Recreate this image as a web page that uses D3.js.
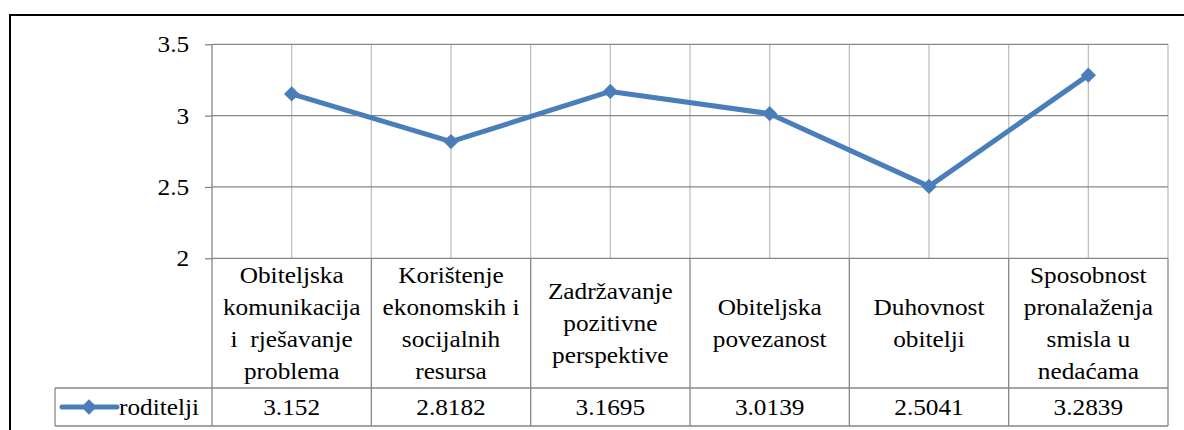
<!DOCTYPE html>
<html>
<head>
<meta charset="utf-8">
<script src="https://cdn.jsdelivr.net/npm/d3@7"></script>
<style>
  body{margin:0;background:#fff}
  svg text{font-family:"Liberation Serif",Tinos,"Times New Roman","DejaVu Serif",serif;fill:#000;white-space:pre}
</style>
</head>
<body>
<div id="chart"></div>
<script>
// categories, split in lines the way they are wrapped in the table
let categories=[
  ["Obiteljska","komunikacija","i  rješavanje","problema"],
  ["Korištenje","ekonomskih i","socijalnih","resursa"],
  ["Zadržavanje","pozitivne","perspektive"],
  ["Obiteljska","povezanost"],
  ["Duhovnost","obitelji"],
  ["Sposobnost","pronalaženja","smisla u","nedaćama"]
]
let seriesName="roditelji"
let values=[3.152,2.8182,3.1695,3.0139,2.5041,3.2839]
let valueLabels=["3.152","2.8182","3.1695","3.0139","2.5041","3.2839"]
let yTicks=[2,2.5,3,3.5]

let width=1184,height=430
let plotLeft=212,plotRight=1168,plotTop=44.3,plotBottom=258.3
let rowY=388,tableBottom=426,legendLeft=55
let fontSize=23,sx=1.1
let serif='"Liberation Serif",Tinos,"Times New Roman","DejaVu Serif",serif'
let blue="#4a7ebb",dark="#878787",light="#c0c0c0"

const svg=d3.select("#chart").append("svg").attr("width",width).attr("height",height)

const ids=categories.map((c,i)=>i)
const xScale=d3.scaleBand().domain(ids).range([plotLeft,plotRight])
const yScale=d3.scaleLinear().domain([2,3.5]).range([plotBottom,plotTop])
const bw=xScale.bandwidth()

// outer frame
svg.append("rect").attr("x",10).attr("y",15).attr("width",1300).attr("height",600)
  .attr("fill","none").attr("stroke","#000").attr("stroke-width",2)

// vertical gridlines at centers and between categories
let vLines=[]
ids.forEach(i=>{vLines.push(xScale(i)+bw/2);if(i>0)vLines.push(xScale(i))})
vLines.push(plotRight)
svg.append("g").selectAll("line").data(vLines).enter().append("line")
  .attr("x1",d=>d).attr("x2",d=>d).attr("y1",plotTop).attr("y2",plotBottom)
  .attr("stroke",light).attr("stroke-width",1.3)

// horizontal gridlines
svg.append("g").selectAll("line").data(yTicks.filter(d=>d>2)).enter().append("line")
  .attr("x1",plotLeft).attr("x2",plotRight).attr("y1",d=>yScale(d)).attr("y2",d=>yScale(d))
  .attr("stroke",dark).attr("stroke-width",1.3)

// y axis
const yAxis=d3.axisLeft(yScale).tickValues(yTicks).tickSize(7).tickPadding(12).tickFormat(d=>String(d))
const ya=svg.append("g").attr("transform","translate("+plotLeft+",0)").call(yAxis)
ya.attr("font-family",serif)
ya.select(".domain").remove()
ya.selectAll("line").attr("stroke",dark).attr("stroke-width",1.3)
ya.selectAll("text").attr("font-size",fontSize).attr("fill","#000")
  .attr("transform",function(){let x=+d3.select(this).attr("x");return "translate("+(x*(sx-1))+",0) scale("+sx+",1)"})

// data table lines
const tg=svg.append("g").attr("stroke",dark).attr("stroke-width",1.3)
tg.append("line").attr("x1",plotLeft).attr("x2",plotLeft).attr("y1",plotTop).attr("y2",tableBottom)
tg.append("line").attr("x1",plotRight).attr("x2",plotRight).attr("y1",plotBottom).attr("y2",tableBottom)
tg.selectAll(".sep").data(ids.slice(1)).enter().append("line")
  .attr("x1",d=>xScale(d)).attr("x2",d=>xScale(d)).attr("y1",plotBottom).attr("y2",tableBottom)
tg.append("line").attr("x1",plotLeft).attr("x2",plotRight).attr("y1",plotBottom).attr("y2",plotBottom)
tg.append("line").attr("x1",legendLeft).attr("x2",plotRight).attr("y1",rowY).attr("y2",rowY)
tg.append("line").attr("x1",legendLeft).attr("x2",plotRight).attr("y1",tableBottom).attr("y2",tableBottom)
tg.append("line").attr("x1",legendLeft).attr("x2",legendLeft).attr("y1",rowY).attr("y2",tableBottom)

// category labels
let lineH=32
const cg=svg.append("g").attr("font-family",serif).selectAll("g").data(ids).enter().append("g")
cg.each(function(i){
  let lines=categories[i]
  let cx=xScale(i)+bw/2
  let y0=(plotBottom+rowY)/2-(lines.length-1)*lineH/2
  lines.forEach((t,k)=>{
    d3.select(this).append("text").attr("text-anchor","middle").attr("dominant-baseline","central")
      .attr("font-size",fontSize).attr("transform","translate("+cx+","+(y0+k*lineH)+") scale("+sx+",1)").text(t)
  })
})

// values row
svg.append("g").attr("font-family",serif).selectAll("text").data(ids).enter().append("text")
  .attr("text-anchor","middle").attr("dominant-baseline","central").attr("font-size",fontSize)
  .attr("transform",d=>"translate("+(xScale(d)+bw/2)+","+((rowY+tableBottom)/2)+") scale("+sx+",1)")
  .text(d=>valueLabels[d])

// legend key
const diamond=d3.symbol().type(d3.symbolDiamond2).size(150)
svg.append("line").attr("x1",62).attr("x2",117).attr("y1",(rowY+tableBottom)/2).attr("y2",(rowY+tableBottom)/2)
  .attr("stroke",blue).attr("stroke-width",5).attr("stroke-linecap","round")
svg.append("path").attr("d",diamond).attr("fill",blue).attr("transform","translate(89,"+((rowY+tableBottom)/2)+")")
svg.append("text").attr("dominant-baseline","central").attr("font-size",fontSize).attr("font-family",serif)
  .attr("transform","translate(119,"+((rowY+tableBottom)/2)+") scale("+sx+",1)").text(seriesName)

// the line and markers
const line=d3.line().x((d,i)=>xScale(i)+bw/2).y(d=>yScale(d))
svg.append("path").datum(values).attr("d",line).attr("fill","none").attr("stroke",blue).attr("stroke-width",5).attr("stroke-linejoin","round")
svg.append("g").selectAll("path").data(values).enter().append("path")
  .attr("d",diamond).attr("fill",blue)
  .attr("transform",(d,i)=>"translate("+(xScale(i)+bw/2)+","+yScale(d)+")")
</script>
</body>
</html>
